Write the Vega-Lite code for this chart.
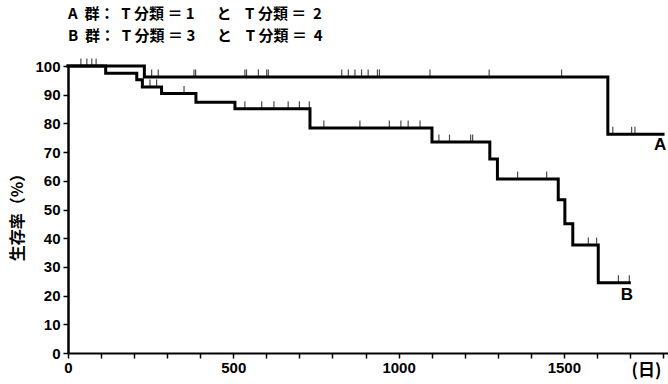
{
  "$schema": "https://vega.github.io/schema/vega-lite/v6.json",
  "width": 600,
  "height": 287,
  "autosize": {"type": "none"},
  "padding": {"left": 68, "top": 66, "right": 0, "bottom": 31},
  "background": "white",
  "config": {
    "view": {"stroke": null},
    "font": "Noto Sans CJK JP",
    "axis": {"grid": false, "domainColor": "black", "tickColor": "black", "labelColor": "black", "titleColor": "black"}
  },
  "title": {
    "text": ["A\u00a0\u00a0群：\u00a0\u00a0T\u00a0分類\u00a0＝\u00a01\u00a0\u00a0　と\u00a0\u00a0\u00a0\u00a0T\u00a0分類\u00a0＝\u00a0\u00a02", "B\u00a0\u00a0群：\u00a0\u00a0T\u00a0分類\u00a0＝\u00a03\u00a0\u00a0　と\u00a0\u00a0\u00a0\u00a0T\u00a0分類\u00a0＝\u00a0\u00a04"],
    "anchor": "start",
    "frame": "group",
    "fontSize": 15,
    "fontWeight": "bold",
    "font": "Noto Sans CJK JP",
    "lineHeight": 22,
    "offset": 15,
    "color": "black"
  },
  "datasets": {
    "curves": [
      {"group": "A", "day": 0, "surv": 100},
      {"group": "A", "day": 231, "surv": 96.2},
      {"group": "A", "day": 1633, "surv": 76.2},
      {"group": "A", "day": 1800, "surv": 76.2},
      {"group": "B", "day": 0, "surv": 100},
      {"group": "B", "day": 114, "surv": 97.5},
      {"group": "B", "day": 208, "surv": 95.2},
      {"group": "B", "day": 225, "surv": 92.7},
      {"group": "B", "day": 283, "surv": 90.4},
      {"group": "B", "day": 387, "surv": 87.4},
      {"group": "B", "day": 505, "surv": 85.1},
      {"group": "B", "day": 732, "surv": 78.4},
      {"group": "B", "day": 1101, "surv": 73.5},
      {"group": "B", "day": 1276, "surv": 67.6},
      {"group": "B", "day": 1299, "surv": 60.6},
      {"group": "B", "day": 1483, "surv": 53.4},
      {"group": "B", "day": 1503, "surv": 45.0},
      {"group": "B", "day": 1527, "surv": 37.6},
      {"group": "B", "day": 1604, "surv": 24.5},
      {"group": "B", "day": 1698, "surv": 24.5}
    ],
    "censor": [
      {"group": "A", "day": 39, "surv": 100},
      {"group": "A", "day": 57, "surv": 100},
      {"group": "A", "day": 72, "surv": 100},
      {"group": "A", "day": 85, "surv": 100},
      {"group": "A", "day": 253, "surv": 96.2},
      {"group": "A", "day": 273, "surv": 96.2},
      {"group": "A", "day": 381, "surv": 96.2},
      {"group": "A", "day": 386, "surv": 96.2},
      {"group": "A", "day": 535, "surv": 96.2},
      {"group": "A", "day": 540, "surv": 96.2},
      {"group": "A", "day": 576, "surv": 96.2},
      {"group": "A", "day": 601, "surv": 96.2},
      {"group": "A", "day": 606, "surv": 96.2},
      {"group": "A", "day": 828, "surv": 96.2},
      {"group": "A", "day": 848, "surv": 96.2},
      {"group": "A", "day": 868, "surv": 96.2},
      {"group": "A", "day": 888, "surv": 96.2},
      {"group": "A", "day": 908, "surv": 96.2},
      {"group": "A", "day": 936, "surv": 96.2},
      {"group": "A", "day": 942, "surv": 96.2},
      {"group": "A", "day": 1095, "surv": 96.2},
      {"group": "A", "day": 1274, "surv": 96.2},
      {"group": "A", "day": 1493, "surv": 96.2},
      {"group": "A", "day": 1648, "surv": 76.2},
      {"group": "A", "day": 1705, "surv": 76.2},
      {"group": "A", "day": 1715, "surv": 76.2},
      {"group": "B", "day": 248, "surv": 92.7},
      {"group": "B", "day": 268, "surv": 92.7},
      {"group": "B", "day": 351, "surv": 90.4},
      {"group": "B", "day": 535, "surv": 85.1},
      {"group": "B", "day": 586, "surv": 85.1},
      {"group": "B", "day": 623, "surv": 85.1},
      {"group": "B", "day": 666, "surv": 85.1},
      {"group": "B", "day": 700, "surv": 85.1},
      {"group": "B", "day": 730, "surv": 85.1},
      {"group": "B", "day": 774, "surv": 78.4},
      {"group": "B", "day": 883, "surv": 78.4},
      {"group": "B", "day": 972, "surv": 78.4},
      {"group": "B", "day": 1007, "surv": 78.4},
      {"group": "B", "day": 1029, "surv": 78.4},
      {"group": "B", "day": 1065, "surv": 78.4},
      {"group": "B", "day": 1122, "surv": 73.5},
      {"group": "B", "day": 1154, "surv": 73.5},
      {"group": "B", "day": 1218, "surv": 73.5},
      {"group": "B", "day": 1224, "surv": 73.5},
      {"group": "B", "day": 1360, "surv": 60.6},
      {"group": "B", "day": 1448, "surv": 60.6},
      {"group": "B", "day": 1574, "surv": 37.6},
      {"group": "B", "day": 1599, "surv": 37.6},
      {"group": "B", "day": 1665, "surv": 24.5},
      {"group": "B", "day": 1698, "surv": 24.5}
    ],
    "labels": [
      {"group": "A", "day": 1791, "surv": 72.6},
      {"group": "B", "day": 1691, "surv": 20.2}
    ]
  },
  "encoding": {
    "x": {
      "field": "day",
      "type": "quantitative",
      "scale": {"domain": [0, 1815], "nice": false, "zero": true},
      "axis": {
        "title": "(日)",
        "titleX": 578,
        "titleY": 17,
        "titleAlign": "center",
        "titleBaseline": "middle",
        "titleFontSize": 17,
        "titleFontWeight": "bold",
        "titleFont": "Noto Sans CJK JP",
        "values": [0, 100, 200, 300, 400, 500, 600, 700, 800, 900, 1000, 1100, 1200, 1300, 1400, 1500, 1600, 1700, 1800],
        "labelExpr": "datum.value % 500 == 0 ? datum.label : ''",
        "format": "d",
        "labelFont": "Liberation Sans",
        "labelFontSize": 15,
        "labelFontWeight": "bold",
        "labelPadding": 2,
        "labelFlush": false,
        "labelOverlap": false,
        "tickSize": 5,
        "tickWidth": 1.5,
        "domainWidth": 2
      }
    },
    "y": {
      "field": "surv",
      "type": "quantitative",
      "scale": {"domain": [0, 100], "nice": false},
      "axis": {
        "title": "生存率（%）",
        "titleX": -51,
        "titleY": 147,
        "titleAlign": "center",
        "titleBaseline": "middle",
        "titleAngle": 270,
        "titleFontSize": 16,
        "titleFontWeight": "bold",
        "titleFont": "Noto Sans CJK JP",
        "values": [0, 10, 20, 30, 40, 50, 60, 70, 80, 90, 100],
        "labelFont": "Liberation Sans",
        "labelFontSize": 15,
        "labelFontWeight": "bold",
        "labelPadding": 3,
        "labelFlush": false,
        "tickSize": 5,
        "tickWidth": 1.5,
        "domainWidth": 2.5
      }
    }
  },
  "layer": [
    {
      "data": {"name": "curves"},
      "mark": {"type": "line", "interpolate": "step-after", "color": "black", "strokeWidth": 3, "strokeCap": "square"},
      "encoding": {"detail": {"field": "group"}}
    },
    {
      "data": {"name": "censor"},
      "mark": {"type": "tick", "orient": "vertical", "color": "black", "size": 7, "thickness": 1.2, "yOffset": -4},
      "encoding": {}
    },
    {
      "data": {"name": "labels"},
      "mark": {"type": "text", "color": "black", "fontSize": 17, "fontWeight": "bold", "font": "Liberation Sans", "align": "center", "baseline": "middle"},
      "encoding": {"text": {"field": "group"}}
    }
  ]
}
